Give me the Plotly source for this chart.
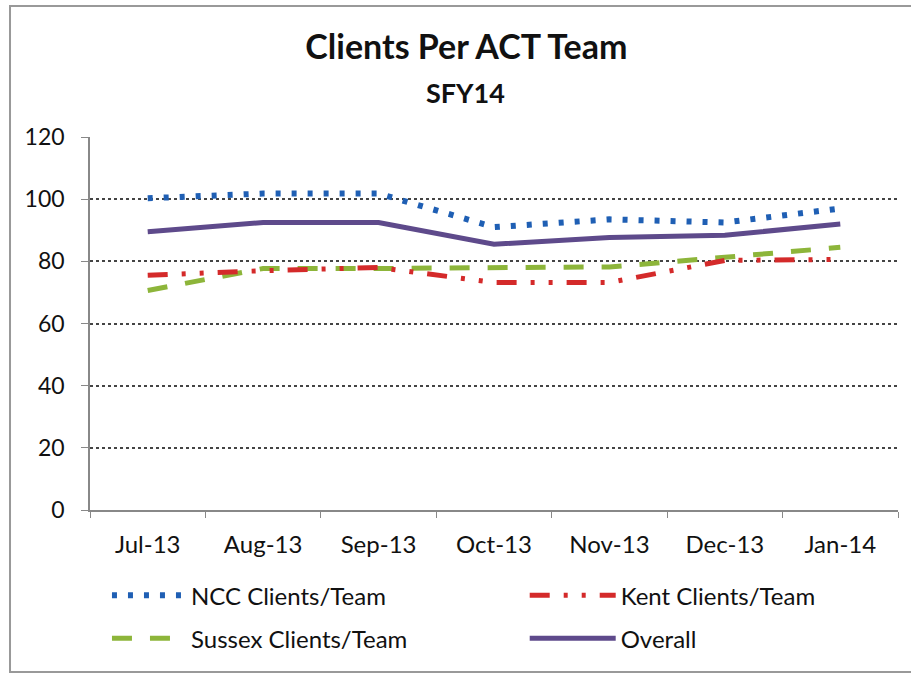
import plotly.graph_objects as go

months = ["Jul-13", "Aug-13", "Sep-13", "Oct-13", "Nov-13", "Dec-13", "Jan-14"]
ncc = [100.3, 101.8, 101.8, 91.0, 93.5, 92.5, 97.0]
kent = [75.5, 77.0, 78.0, 73.2, 73.2, 80.3, 80.6]
sussex = [70.6, 77.7, 77.7, 78.0, 78.2, 81.3, 84.5]
overall = [89.5, 92.5, 92.5, 85.5, 87.7, 88.4, 92.0]
y_ticks = [0, 20, 40, 60, 80, 100, 120]

font = "Lato, 'Open Sans', sans-serif"

fig = go.Figure()
fig.add_trace(go.Scatter(x=months, y=ncc, name="NCC Clients/Team", mode="lines",
                         legend="legend", legendgroup="a",
                         line=dict(color="#1F5FB4", width=6, dash="5px,11px")))
fig.add_trace(go.Scatter(x=months, y=sussex, name="Sussex Clients/Team", mode="lines",
                         legend="legend", legendgroup="b",
                         line=dict(color="#8DB53A", width=5, dash="20px,18px")))
fig.add_trace(go.Scatter(x=months, y=kent, name="Kent Clients/Team", mode="lines",
                         legend="legend2", legendgroup="c",
                         line=dict(color="#D42A2A", width=5, dash="20px,14px,4px,14px,4px,14px")))
fig.add_trace(go.Scatter(x=months, y=overall, name="Overall", mode="lines",
                         legend="legend2", legendgroup="d",
                         line=dict(color="#5E4A8B", width=5)))

leg_common = dict(orientation="v", yanchor="top", y=-0.169, traceorder="grouped",
                  tracegroupgap=9, font=dict(size=24, family=font, color="#111"),
                  bgcolor="rgba(0,0,0,0)")

fig.update_layout(
    width=911, height=675,
    margin=dict(l=90, r=13, t=137, b=165),
    paper_bgcolor="white", plot_bgcolor="white",
    font=dict(family=font, size=22, color="#111"),
    title=dict(text="<b>Clients Per ACT Team</b>", x=0.512, xanchor="center",
               xref="container", yref="container", y=0.930, yanchor="middle",
               font=dict(size=34, family=font, color="#111")),
    legend=dict(x=0.021, xanchor="left", itemwidth=74, **leg_common),
    legend2=dict(x=0.538, xanchor="left", itemwidth=86, **leg_common),
    showlegend=True,
    annotations=[dict(text="<b>SFY14</b>", xref="paper", yref="paper", x=0.465, y=1.118,
                      showarrow=False, font=dict(size=27, family=font, color="#111"),
                      xanchor="center", yanchor="middle")],
    xaxis=dict(type="category", tickson="boundaries", ticks="outside", ticklen=6,
               tickcolor="#888", showline=True, linecolor="#888", linewidth=1.5,
               showgrid=False, tickfont=dict(size=24), range=[-0.5, 6.5],
               ticklabelstandoff=12),
    yaxis=dict(range=[0, 120], tickvals=y_ticks, ticks="outside", ticklen=7,
               tickcolor="#888", showline=True, linecolor="#888", linewidth=1.5,
               gridcolor="#444", griddash="dot", gridwidth=1.5, zeroline=False,
               tickfont=dict(size=23), ticklabelstandoff=12),
    shapes=[dict(type="rect", xref="paper", yref="paper", x0=-0.099, x1=1.05,
                 y0=-0.434, y1=1.351, line=dict(color="#999", width=2))],
)

fig.write_html("out.html", config={"displayModeBar": False},
               post_script="document.body.style.margin='0';")
